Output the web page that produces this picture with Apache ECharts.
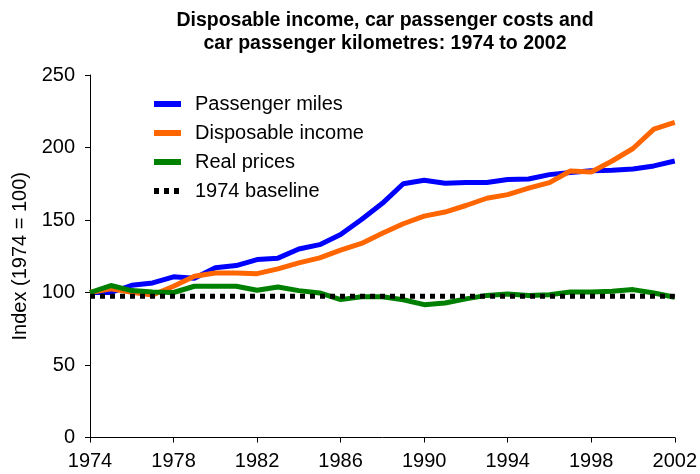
<!DOCTYPE html>
<html>
<head>
<meta charset="utf-8">
<script src="https://cdn.jsdelivr.net/npm/echarts@6/dist/echarts.min.js"></script>
<style>
  html, body { margin: 0; padding: 0; background: #fff; }
  #chart { width: 700px; height: 474px; }
</style>
</head>
<body>
<div id="chart"></div>
<script>
const years = [];
for (let y = 1974; y <= 2002; y++) years.push(String(y));

// index values (1974 = 100)
const passengerMiles = [100, 100, 105, 106.6, 110.8, 109.8, 117, 118.6, 122.7, 123.7,
  130, 133, 140, 150.4, 161.5, 175, 177.4, 175.3, 175.8, 175.8,
  177.9, 178.3, 181.3, 182.7, 184, 184.3, 185.2, 187.3, 190.7];
const disposableIncome = [100, 102.5, 100.2, 98.3, 104.3, 111.2, 113.5, 113.5, 113, 116.3,
  120.4, 123.9, 129.2, 133.8, 140.8, 147.4, 152.7, 155.5, 160, 165,
  167.5, 172, 175.8, 183.8, 183.1, 190.7, 199.3, 212.7, 217.3];
const realPrices = [100, 104.8, 101.3, 100.4, 100, 104.3, 104.3, 104.3, 101.5, 103.8,
  101.3, 99.7, 95.1, 97, 97, 95, 91.6, 92.8, 95.6, 98,
  99, 97.9, 98.4, 100.4, 100.4, 100.8, 102, 99.7, 96.7];
const baselineValue = 97.5;
const baseline = years.map(() => baselineValue);

const seriesNames = ['Passenger miles', 'Disposable income', 'Real prices', '1974 baseline'];
const yTicks = [0, 50, 100, 150, 200, 250];

const font = 'Arial, "Liberation Sans", sans-serif';

function lineSeries(name, data, color, type) {
  return {
    name,
    type: 'line',
    data,
    symbol: 'none',
    showSymbol: false,
    smooth: false,
    lineStyle: { color, width: 5, type: type || 'solid', cap: 'butt' },
    itemStyle: { color },
    emphasis: { disabled: true },
  };
}

const chart = echarts.init(document.getElementById('chart'));
chart.setOption({
  animation: false,
  backgroundColor: '#fff',
  textStyle: { fontFamily: font },
  title: {
    text: 'Disposable income, car passenger costs and\ncar passenger kilometres: 1974 to 2002',
    left: 380,
    top: 4,
    textAlign: 'center',
    textStyle: { fontSize: 19.5, fontWeight: 'bold', color: '#000', lineHeight: 23, fontFamily: font },
  },
  legend: {
    orient: 'vertical',
    left: 146,
    top: 89,
    itemWidth: 27,
    itemHeight: 10,
    itemGap: 9,
    data: seriesNames,
    itemStyle: { opacity: 0 },
    lineStyle: { width: 6 },
    textStyle: { fontSize: 20, color: '#000', lineHeight: 20, fontFamily: font, padding: [0, 0, 0, 9] },
  },
  grid: { left: 90, right: 23, top: 75, bottom: 36.5 },
  xAxis: {
    type: 'category',
    data: years,
    boundaryGap: false,
    axisLine: { lineStyle: { color: '#000', width: 1 } },
    axisTick: { interval: 3, length: 5, lineStyle: { color: '#000' } },
    axisLabel: { interval: 3, fontSize: 20, color: '#000', margin: 14, fontFamily: font },
    splitLine: { show: false },
  },
  yAxis: {
    type: 'value',
    min: yTicks[0],
    max: yTicks[yTicks.length - 1],
    interval: 50,
    name: 'Index (1974 = 100)',
    nameLocation: 'middle',
    nameGap: 60,
    nameTextStyle: { fontSize: 20, color: '#000', fontFamily: font },
    axisLine: { show: true, lineStyle: { color: '#000', width: 1 } },
    axisTick: { show: true, length: 5, lineStyle: { color: '#000' } },
    axisLabel: { fontSize: 20, color: '#000', margin: 15, fontFamily: font },
    splitLine: { show: false },
  },
  series: [
    lineSeries(seriesNames[0], passengerMiles, '#0000FF'),
    lineSeries(seriesNames[1], disposableIncome, '#FF6600'),
    lineSeries(seriesNames[2], realPrices, '#008000'),
    lineSeries(seriesNames[3], baseline, '#000000', [5, 5]),
  ],
});
</script>
</body>
</html>
